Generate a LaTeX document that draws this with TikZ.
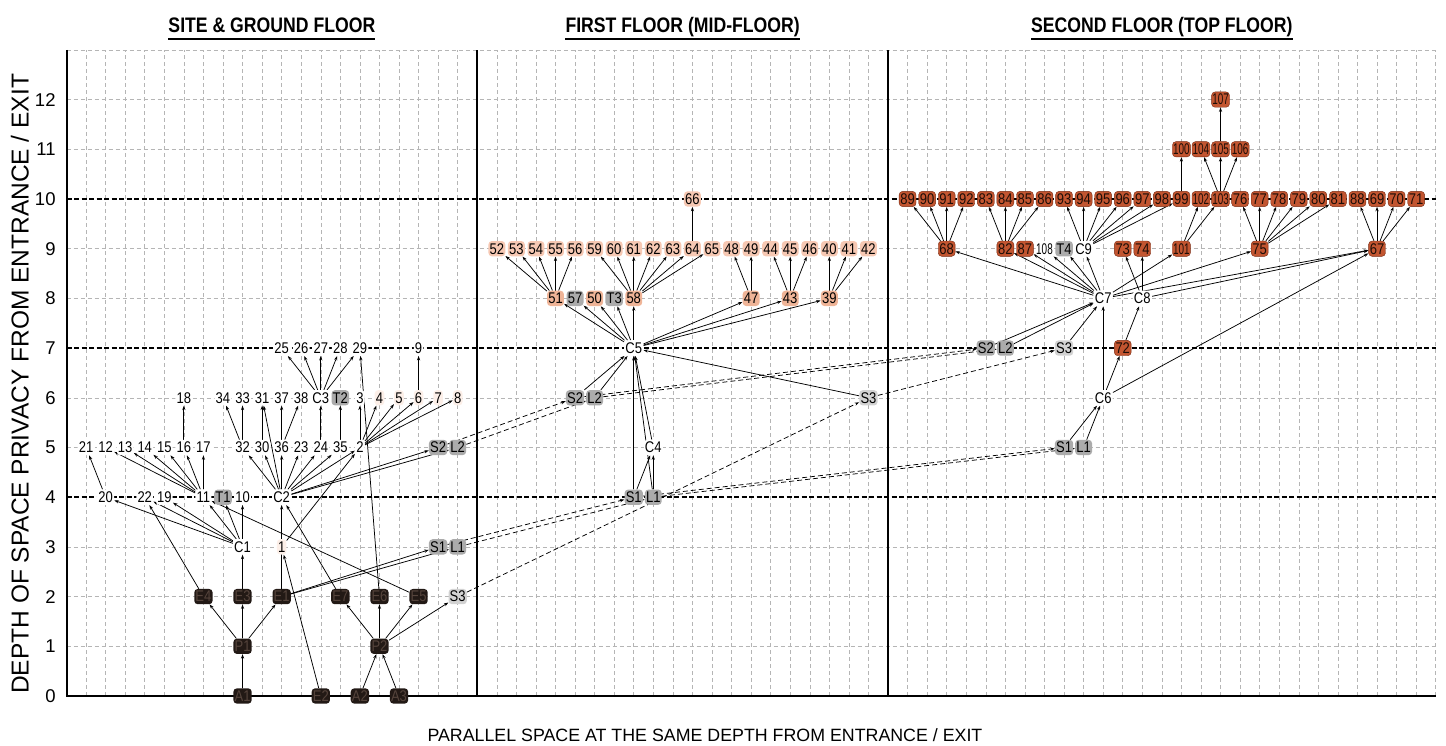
\documentclass[tikz,border=0pt]{standalone}
\usepackage{fontspec}
\setmainfont{Liberation Sans}
\newfontfamily\lblfont[FakeStretch=0.84]{Liberation Sans}
\newfontfamily\slimfont[FakeStretch=0.64]{Liberation Sans}
\newfontfamily\headfont[FakeStretch=0.84]{Liberation Sans}
\usetikzlibrary{arrows.meta}
\definecolor{peach}{HTML}{F6C8B3}
\definecolor{peachd}{HTML}{EFB497}
\definecolor{brick}{HTML}{C25530}
\definecolor{brickline}{HTML}{7A2A12}
\definecolor{darkn}{HTML}{221915}
\definecolor{darktxt}{HTML}{55443C}
\definecolor{tint}{HTML}{FCEFE8}
\definecolor{gridc}{HTML}{B5B5B5}
\definecolor{grayn}{HTML}{ABABAB}
\definecolor{lgrayn}{HTML}{D2D2D2}

\pgfdeclarelayer{bg}
\pgfdeclarelayer{links}
\pgfsetlayers{bg,links,main}

\tikzset{
  lbl/.style={font=\lblfont\fontsize{15.5}{16}\selectfont, inner xsep=1.2pt, inner ysep=2pt,
              text height=11pt, text depth=0.3pt, rounded corners=3.5pt},
  slim/.style={font=\slimfont\fontsize{15.5}{16}\selectfont, inner xsep=0.7pt},
  wn/.style={lbl, fill=white},
  tn/.style={lbl, fill=tint},
  gn/.style={lbl, fill=grayn},
  ln/.style={lbl, fill=lgrayn},
  pn/.style={lbl, fill=peach},
  qn/.style={lbl, fill=peachd},
  rn/.style={lbl, fill=brick, draw=brickline, line width=0.4pt, text=black!85!brick},
  dn/.style={lbl, fill=darkn, text=darktxt},
  ed/.style={-{Stealth[length=4.5pt,width=3.2pt]}, line width=0.75pt, black},
  ld/.style={ed, dash pattern=on 5pt off 3pt},
  gridline/.style={gridc, line width=0.5pt, dash pattern=on 4pt off 3pt},
  floorline/.style={black, line width=1.6pt, dash pattern=on 5pt off 2.5pt},
  frameline/.style={black, line width=2pt},
  tick/.style={font=\fontsize{18.5}{18.5}\selectfont, anchor=east, inner sep=0pt},
  head/.style={font=\headfont\bfseries\fontsize{21}{21}\selectfont, anchor=base, inner sep=0pt},
}

\begin{document}
\begin{tikzpicture}[x=19.56pt,y=49.7pt]
\useasboundingbox (-3.4,-1.006) rectangle (70.527,14.004);

% ---------- grid, floor bands and frame ----------
\begin{pgfonlayer}{bg}
  \foreach \k in {1,...,70} \draw[gridline] (\k,0) -- (\k,13);
  \foreach \d in {1,2,3,5,6,8,9,11,12,13} \draw[gridline] (0,\d) -- (70,\d);
  \foreach \d in {4,7,10} \draw[floorline] (0,\d) -- (70,\d);
  \draw[frameline] (0,13) -- (0,0) -- (70,0);
  \draw[frameline] (21,0) -- (21,13);
  \draw[frameline] (42,0) -- (42,13);
\end{pgfonlayer}

% ---------- axes and headings ----------
\foreach \d in {0,...,12} \node[tick] (tick\d) at (-0.55,\d) {\d};
\node[font=\fontsize{24.5}{24.5}\selectfont, rotate=90, inner sep=0pt] (ylab) at (-2.38,6.28)
  {DEPTH OF SPACE PRIVACY FROM ENTRANCE / EXIT};
\node[font=\fontsize{17.8}{18}\selectfont, inner sep=0pt] (xlab) at (32.64,-0.79)
  {PARALLEL SPACE AT THE SAME DEPTH FROM ENTRANCE / EXIT};

\node[head] (h1) at (10.5,13.34) {SITE \& GROUND FLOOR};
\node[head] (h2) at (31.5,13.34) {FIRST FLOOR (MID-FLOOR)};
\node[head] (h3) at (56,13.34) {SECOND FLOOR (TOP FLOOR)};
\foreach \h in {h1,h2,h3}
  \draw[line width=2pt] ([yshift=-6pt]\h.base west) -- ([yshift=-6pt]\h.base east);

% ---------- site & ground floor ----------
\foreach \n/\k in {25/11,26/12,27/13,28/14,29/15,9/18} \node[wn] (g\n) at (\k,7) {\n};
\foreach \n/\k in {18/6,34/8,33/9,31/10,37/11,38/12,3/15} \node[wn] (g\n) at (\k,6) {\n};
\node[wn] (gC3) at (13,6) {C3};
\node[gn] (gT2) at (14,6) {T2};
\foreach \n/\k in {4/16,5/17,6/18,7/19,8/20} \node[tn] (g\n) at (\k,6) {\n};
\foreach \n/\k in {21/1,12/2,13/3,14/4,15/5,16/6,17/7,32/9,30/10,36/11,23/12,24/13,35/14,2/15}
  \node[wn] (g\n) at (\k,5) {\n};
\node[gn] (gS2) at (19,5) {S2};
\node[gn] (gL2) at (20,5) {L2};
\foreach \n/\k in {20/2,22/4,19/5,11/7,10/9} \node[wn] (g\n) at (\k,4) {\n};
\node[gn] (gT1) at (8,4) {T1};
\node[wn] (gC2) at (11,4) {C2};
\node[wn] (gC1) at (9,3) {C1};
\node[tn] (g1) at (11,3) {1};
\node[gn] (gS1) at (19,3) {S1};
\node[gn] (gL1) at (20,3) {L1};
\foreach \n/\k in {E4/7,E3/9,E1/11,E7/14,E6/16,E5/18} \node[dn] (g\n) at (\k,2) {\n};
\node[ln] (gS3) at (20,2) {S3};
\node[dn] (gP1) at (9,1) {P1};
\node[dn] (gP2) at (16,1) {P2};
\foreach \n/\k in {A1/9,E2/13,A2/15,A3/17} \node[dn] (g\n) at (\k,0) {\n};

% ---------- first floor ----------
\foreach \n/\k in {52/22,53/23,54/24,55/25,56/26,59/27,60/28,61/29,62/30,63/31,64/32,65/33,
                   48/34,49/35,44/36,45/37,46/38,40/39,41/40,42/41}
  \node[pn] (n\n) at (\k,9) {\n};
\node[pn] (n66) at (32,10) {66};
\foreach \n/\k in {51/25,50/27,58/29,47/35,43/37,39/39} \node[qn] (n\n) at (\k,8) {\n};
\node[gn] (n57) at (26,8) {57};
\node[gn] (fT3) at (28,8) {T3};
\node[wn] (fC5) at (29,7) {C5};
\node[gn] (fS2) at (26,6) {S2};
\node[gn] (fL2) at (27,6) {L2};
\node[ln] (fS3) at (41,6) {S3};
\node[wn] (fC4) at (30,5) {C4};
\node[gn] (fS1) at (29,4) {S1};
\node[gn] (fL1) at (30,4) {L1};

% ---------- second floor ----------
\foreach \n/\k in {89/43,90/44,91/45,92/46,83/47,84/48,85/49,86/50,93/51,94/52,95/53,96/54,
                   97/55,98/56,99/57,76/60,77/61,78/62,79/63,80/64,81/65,
                   88/66,69/67,70/68,71/69}
  \node[rn] (n\n) at (\k,10) {\n};
\node[rn,slim] (n102) at (58,10) {102};
\node[rn,slim] (n103) at (59,10) {103};
\foreach \n/\k in {100/57,104/58,105/59,106/60} \node[rn,slim] (n\n) at (\k,11) {\n};
\node[rn,slim] (n107) at (59,12) {107};
\foreach \n/\k in {68/45,82/48,87/49,73/54,74/55,75/61,67/67} \node[rn] (n\n) at (\k,9) {\n};
\node[rn,slim] (n101) at (57,9) {101};
\node[wn,slim] (n108) at (50,9) {108};
\node[gn] (sT4) at (51,9) {T4};
\node[wn] (sC9) at (52,9) {C9};
\node[wn] (sC7) at (53,8) {C7};
\node[wn] (sC8) at (55,8) {C8};
\node[gn] (sS2) at (47,7) {S2};
\node[gn] (sL2) at (48,7) {L2};
\node[ln] (sS3) at (51,7) {S3};
\node[rn] (n72) at (54,7) {72};
\node[wn] (sC6) at (53,6) {C6};
\node[gn] (sS1) at (51,5) {S1};
\node[gn] (sL1) at (52,5) {L1};

% ---------- links ----------
\begin{pgfonlayer}{links}
  % ground floor
  \foreach \a/\b in {gC1/g20,gC1/g22,gC1/g19,gC1/g11,gC1/gT1,gC1/g10,g20/g21,
      g11/g12,g11/g13,g11/g14,g11/g15,g11/g16,g11/g17,g16/g18,gE4/g22,gE5/g11,
      gE3/gC1,gP1/gE3,gA1/gP1,gP1/gE4,gP1/gE1,gE1/gC2,gE1/gS1,gE1/gL1,
      gC2/g32,gC2/g30,gC2/g36,gC2/g23,gC2/g24,gC2/g35,gC2/g2,gC2/g31,
      g32/g34,g32/g33,g30/g31,g36/g37,g36/g38,g24/gC3,g35/gT2,
      g2/g3,g2/g4,g2/g5,g2/g6,g2/g7,g2/g8,
      gC3/g25,gC3/g26,gC3/g27,gC3/g28,gC3/g29,g6/g9,gC2/gS2,gC2/gL2,
      gE7/gC2,gE2/g1,g1/g2,gE6/g29,gP2/gE7,gP2/gE6,gP2/gE5,gA2/gP2,gA3/gP2,gP2/gS3}
    \draw[ed] (\a) -- (\b);
  % first floor
  \foreach \a/\b in {n51/n52,n51/n53,n51/n54,n51/n55,n51/n56,
      n58/n59,n58/n60,n58/n61,n58/n62,n58/n63,n58/n64,n58/n65,n64/n66,
      n47/n48,n47/n49,n43/n44,n43/n45,n43/n46,n39/n40,n39/n41,n39/n42,
      fC5/n51,fC5/n57,fC5/n50,fC5/fT3,fC5/n58,fC5/n47,fC5/n43,fC5/n39,
      fS2/fC5,fL2/fC5,fS3/fC5,fS1/fC5,fS1/fC4,fL1/fC4,fC4/fC5,fL1/fC5}
    \draw[ed] (\a) -- (\b);
  % second floor
  \foreach \a/\b in {n68/n89,n68/n90,n68/n91,n68/n92,n82/n83,n82/n84,n82/n85,n82/n86,
      sC9/n93,sC9/n94,sC9/n95,sC9/n96,sC9/n97,sC9/n98,sC9/n99,n99/n100,
      n101/n102,n101/n103,n103/n104,n103/n105,n103/n106,n105/n107,
      n75/n76,n75/n77,n75/n78,n75/n79,n75/n80,n75/n81,
      n67/n88,n67/n69,n67/n70,n67/n71,
      sC7/n68,sC7/n82,sC7/n87,sC7/n108,sC7/sT4,sC7/sC9,sC7/n101,sC7/n75,sC7/n67,
      sC8/n73,sC8/n74,sC8/n67,sC6/sC7,sC6/n72,n72/sC8,sC6/n67,
      sS1/sC6,sL1/sC6,sS2/sC7,sL2/sC7,sS3/sC7}
    \draw[ed] (\a) -- (\b);
  % stairs and lifts between floors
  \foreach \a/\b in {gS1/fS1,gL1/fL1,gS2/fS2,gL2/fL2,gS3/fS3,
      fS1/sS1,fL1/sL1,fS2/sS2,fL2/sL2,fS3/sS3}
    \draw[ld] (\a) -- (\b);
\end{pgfonlayer}
\end{tikzpicture}
\end{document}
